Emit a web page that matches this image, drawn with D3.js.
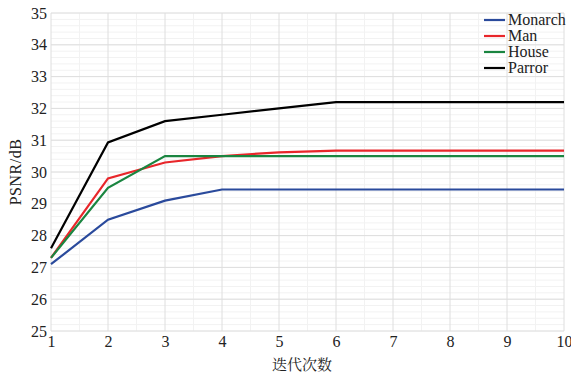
<!DOCTYPE html>
<html><head><meta charset="utf-8">
<script src="https://cdn.jsdelivr.net/npm/d3@7"></script>
<style>body{margin:0;background:#fff}svg{display:block}</style>
</head><body><svg id="c" width="571" height="374"></svg>
<script>
const iterations = [1,2,3,4,5,6,7,8,9,10];
const monarch = [27.1,28.5,29.1,29.45,29.45,29.45,29.45,29.45,29.45,29.45];
const man = [27.3,29.8,30.3,30.5,30.62,30.67,30.67,30.67,30.67,30.67];
const house = [27.3,29.5,30.5,30.5,30.5,30.5,30.5,30.5,30.5,30.5];
const parror = [27.6,30.93,31.6,31.8,32.0,32.2,32.2,32.2,32.2,32.2];
const seriesNames = ["Monarch","Man","House","Parror"];
const seriesColors = ["#2a4a9c","#e8262a","#1a8540","#000000"];
const yTicks = [25,26,27,28,29,30,31,32,33,34,35];

const series = [monarch, man, house, parror];
const svg = d3.select("#c");
const L=51,R=564,T=13,B=331;
const x = d3.scaleLinear().domain([1,10]).range([L,R]);
const y = d3.scaleLinear().domain([25,35]).range([B,T]);
const SERIF = "Liberation Serif";

// minor grid
const minorY = d3.range(25,35.001,0.2);
svg.append("g").selectAll("line").data(minorY).join("line")
  .attr("x1",L).attr("x2",R).attr("y1",d=>y(d)).attr("y2",d=>y(d))
  .attr("stroke","#f2f2f2").attr("stroke-width",1);
const minorX = d3.range(1.5,10,1);
svg.append("g").selectAll("line").data(minorX).join("line")
  .attr("y1",T).attr("y2",B).attr("x1",d=>x(d)).attr("x2",d=>x(d))
  .attr("stroke","#f2f2f2").attr("stroke-width",1);
// major grid
svg.append("g").selectAll("line").data(yTicks).join("line")
  .attr("x1",L).attr("x2",R).attr("y1",d=>y(d)).attr("y2",d=>y(d))
  .attr("stroke","#dedede").attr("stroke-width",1);
svg.append("g").selectAll("line").data(iterations).join("line")
  .attr("y1",T).attr("y2",B).attr("x1",d=>x(d)).attr("x2",d=>x(d))
  .attr("stroke","#dedede").attr("stroke-width",1);

// axes
const xa = svg.append("g").attr("transform",`translate(0,${B})`)
  .call(d3.axisBottom(x).tickValues(iterations).tickFormat(d3.format("d")).tickSize(0).tickPadding(5));
xa.select(".domain").remove();
xa.attr("font-family",SERIF).attr("font-size",16);
xa.selectAll("text").style("font-family",SERIF).style("font-size","16px").attr("fill","#222");
const ya = svg.append("g").attr("transform",`translate(${L},0)`)
  .call(d3.axisLeft(y).tickValues(yTicks).tickFormat(d3.format("d")).tickSize(0).tickPadding(4));
ya.select(".domain").remove();
ya.attr("font-family",SERIF).attr("font-size",16);
ya.selectAll("text").style("font-family",SERIF).style("font-size","16px").attr("fill","#222");

// lines
const line = d3.line().x((d,i)=>x(iterations[i])).y(d=>y(d));
svg.append("g").selectAll("path").data(series).join("path")
  .attr("d",line).attr("fill","none")
  .attr("stroke",(d,i)=>seriesColors[i]).attr("stroke-width",2.2);

// labels
svg.append("text").attr("x",302).attr("y",370).attr("text-anchor","middle")
  .style("font-family","Noto Serif CJK SC").style("font-size","15px").attr("fill","#222").text("迭代次数");
svg.append("text").attr("transform",`translate(21,${(T+B)/2}) rotate(-90)`).attr("text-anchor","middle")
  .style("font-family",SERIF).style("font-size","16px").style("letter-spacing","0.5px").attr("fill","#222").text("PSNR/dB");

// legend
const lg = svg.append("g").attr("transform","translate(484,20)");
seriesNames.forEach((n,i)=>{
  const g = lg.append("g").attr("transform",`translate(0,${i*16})`);
  g.append("line").attr("x1",0).attr("x2",21).attr("y1",0).attr("y2",0)
    .attr("stroke",seriesColors[i]).attr("stroke-width",2.2);
  g.append("text").attr("x",24).attr("y",5).style("font-family",SERIF).style("font-size","16px")
    .attr("fill","#222").text(n);
});
</script></body></html>
